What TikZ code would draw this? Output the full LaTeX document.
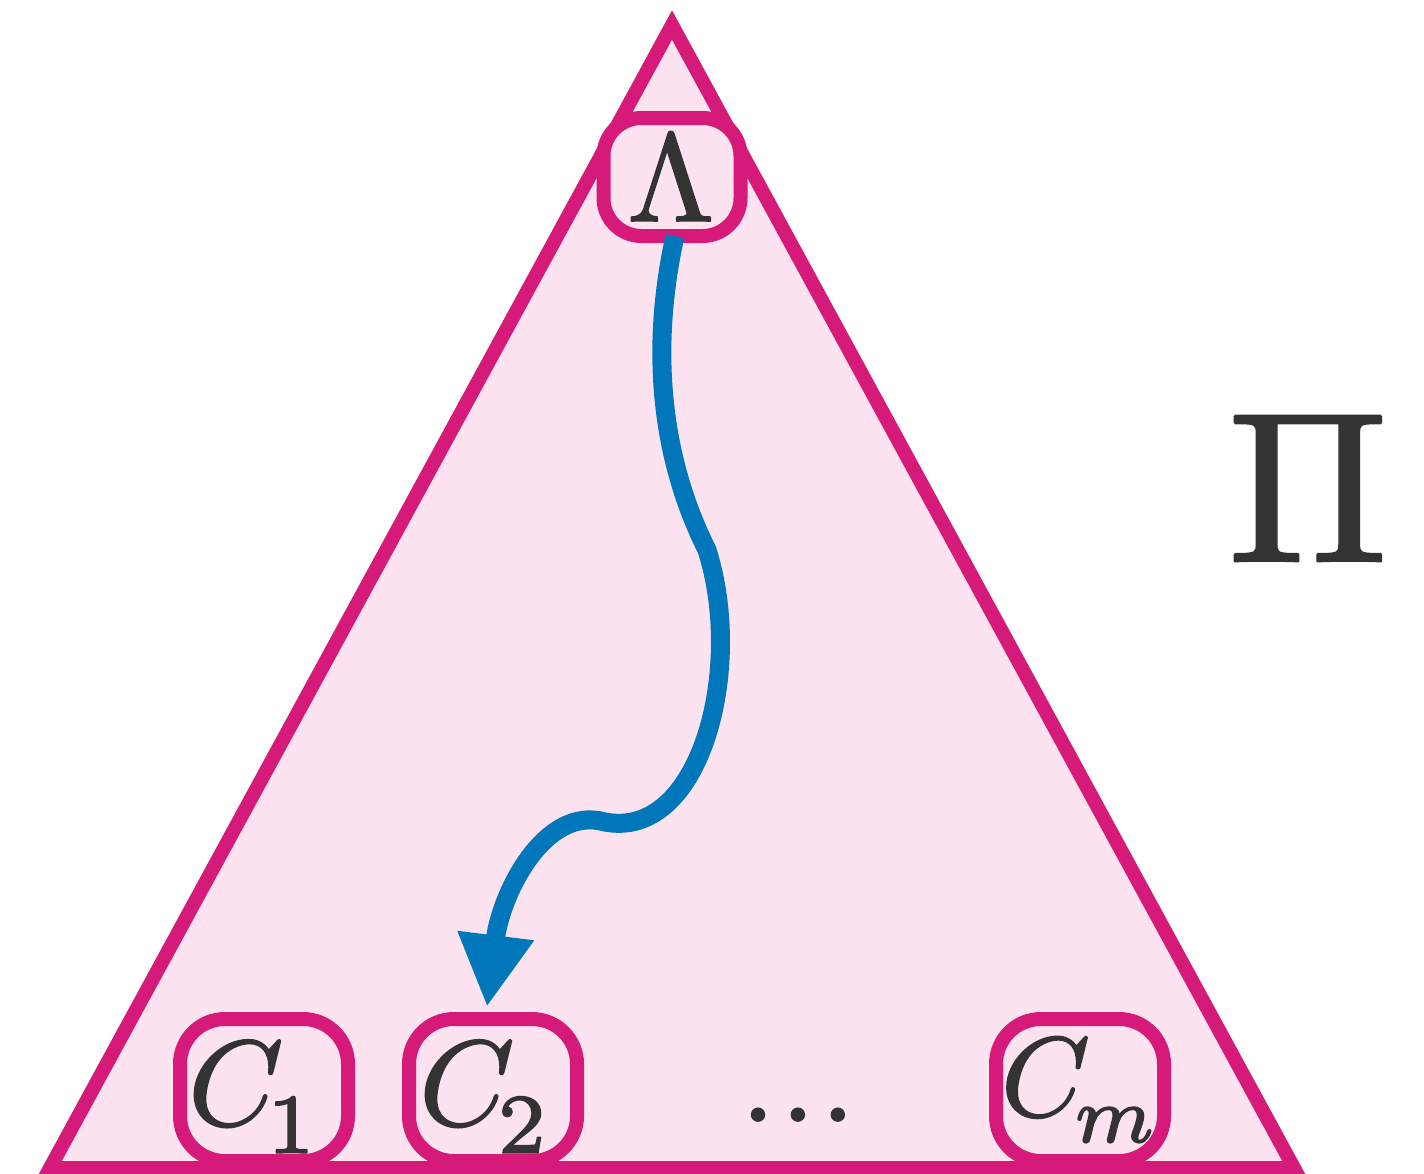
\documentclass[tikz,border=0pt]{standalone}
\usetikzlibrary{arrows.meta,calc}
\definecolor{pinkfill}{HTML}{FDE2EF}
\definecolor{mag}{HTML}{D51A79}
\definecolor{blu}{HTML}{0077BB}
\definecolor{ink}{HTML}{333333}
\newcommand\heavy[1]{\special{pdf:literal direct 2 Tr 1 j 0.14 w}#1\special{pdf:literal direct 0 Tr}}
\newcommand\subl[1]{\mkern-1.5mu\raisebox{-0.8pt}{$\scriptstyle #1$}}
\begin{document}
\begin{tikzpicture}[x=1pt,y=-1pt,
  tri/.style={draw=mag,fill=pinkfill,line width=14pt,line join=miter},
  lbox/.style={draw=mag,fill=pinkfill,line width=14pt,rounded corners=38pt,minimum width=137pt,minimum height=118pt,inner sep=0pt},
  cbox/.style={draw=mag,fill=pinkfill,line width=14pt,rounded corners=45pt,minimum width=168pt,minimum height=142pt,inner sep=0pt},
  lab/.style={text=ink,inner sep=0pt},
  conn/.style={draw=blu,line width=19pt,-{Triangle[length=72pt,width=72pt]}},
]
\useasboundingbox (0,0) rectangle (1424,1173);
\begin{scope}
\clip (0,0) rectangle (1424,1173);
\path[tri] (672,25) -- (50,1168) -- (1294,1168) -- cycle;
\end{scope}
\node[lbox] (lam) at (672,177) {};
\node[cbox] (c1) at (264,1090) {};
\node[cbox] (c2) at (493,1090) {};
\node[cbox] (cm) at (1080,1090) {};
\draw[conn] ([xshift=3pt,yshift=7pt]lam.south) .. controls (652,340) and (657,450) .. (707,550)
  .. controls (745,670) and (700,840) .. (605,822)
  .. controls (545,805) and (501,893) .. ([xshift=-6pt,yshift=5pt]c2.north);
\node[lab,scale=12.5,anchor=base] (lamt) at (671,221) {\heavy{$\Lambda$}};
\node[lab,scale=12.1,anchor=base west] (c1t) at (186,1125) {\heavy{$C_{\subl{1}}$}};
\node[lab,scale=12.1,anchor=base west] (c2t) at (417,1125) {\heavy{$C_{\subl{2}}$}};
\node[lab,scale=11.3,anchor=base west] (cmt) at (999,1116) {\heavy{$C_{\subl{m}}$}};
\node[lab,scale=12,anchor=base] (dots) at (798,1121) {\heavy{$.\mkern1mu.\mkern1mu.$}};
\node[lab,scale=21.3,anchor=base] (pi) at (1308,561) {\heavy{$\Pi$}};
\end{tikzpicture}
\end{document}
